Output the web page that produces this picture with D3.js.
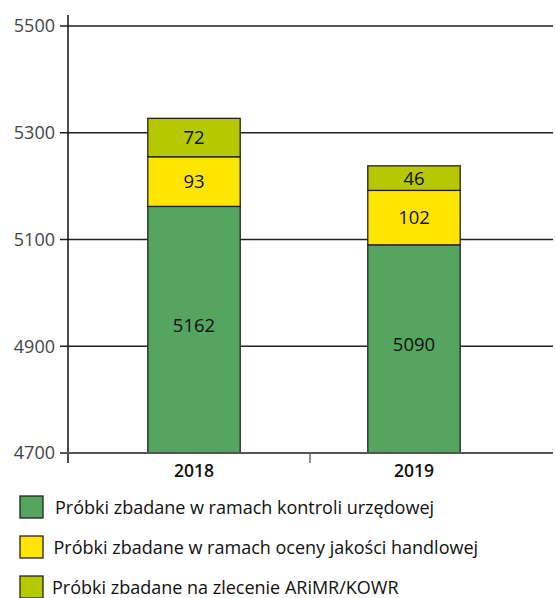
<!DOCTYPE html>
<html>
<head>
<meta charset="utf-8">
<script src="https://cdn.jsdelivr.net/npm/d3@7"></script>
<style>
  body { margin: 0; background: #fff; }
  text { font-family: "Open Sans", sans-serif; }
</style>
</head>
<body>
<div id="chart"></div>
<script>
let years = ["2018", "2019"];
let seriesNames = [
    "Próbki zbadane w ramach kontroli urzędowej",
    "Próbki zbadane w ramach oceny jakości handlowej",
    "Próbki zbadane na zlecenie ARiMR/KOWR"
];
let kontrola = [5162, 5090];
let jakosc = [93, 102];
let zlecenie = [72, 46];
let colors = ["#55a460", "#ffe600", "#b5c800"];
let yTicks = [4700, 4900, 5100, 5300, 5500];

let width = 555;
let height = 598;

let svg = d3.select("#chart")
    .append("svg")
    .attr("width", width)
    .attr("height", height);

let rows = years.map((y, i) => ({year: y, k: kontrola[i], j: jakosc[i], z: zlecenie[i]}));
let stacked = d3.stack().keys(["k", "j", "z"])(rows);

// axis starts at 4700, so clamp the bottom segment
let y = d3.scaleLinear()
    .domain([4700, 5500])
    .range([453, 26])
    .clamp(true);

let x = d3.scaleBand()
    .domain(years)
    .range([84, 524])
    .paddingInner(0.58)
    .paddingOuter(0.29);

// gridlines
svg.append("g")
    .selectAll("line")
    .data(yTicks.slice(1))
    .enter()
    .append("line")
    .attr("x1", 60)
    .attr("x2", 553)
    .attr("y1", d => y(d))
    .attr("y2", d => y(d))
    .style("stroke", "#222")
    .style("stroke-width", "1.3px");

// y labels
svg.append("g")
    .selectAll("text")
    .data(yTicks)
    .enter()
    .append("text")
    .attr("x", 55)
    .attr("y", d => y(d))
    .attr("dy", "0.35em")
    .attr("text-anchor", "end")
    .style("font-size", "18px")
    .style("fill", "#444")
    .text(d => d);

// bars
let groups = svg.append("g")
    .selectAll("g")
    .data(stacked)
    .enter()
    .append("g")
    .attr("fill", (d, i) => colors[i]);

groups.selectAll("rect")
    .data(d => d)
    .enter()
    .append("rect")
    .attr("x", d => x(d.data.year))
    .attr("y", d => y(d[1]))
    .attr("width", x.bandwidth())
    .attr("height", d => y(d[0]) - y(d[1]))
    .style("stroke", "#222")
    .style("stroke-width", "1.3px");

groups.selectAll("text")
    .data(d => d.map(v => ({v: v, val: v[1] - v[0]})))
    .enter()
    .append("text")
    .attr("x", d => x(d.v.data.year) + x.bandwidth() / 2)
    .attr("y", d => (y(d.v[0]) + y(d.v[1])) / 2)
    .attr("dy", d => d.v[0] == 0 ? "0.1em" : "0.35em")
    .attr("text-anchor", "middle")
    .style("font-size", "18.5px")
    .style("fill", "#111")
    .text(d => d.val);

// axes
svg.append("line")
    .attr("x1", 68).attr("x2", 68)
    .attr("y1", 15).attr("y2", 463)
    .style("stroke", "#111")
    .style("stroke-width", "1.5px");

svg.append("line")
    .attr("x1", 60).attr("x2", 553)
    .attr("y1", y(4700)).attr("y2", y(4700))
    .style("stroke", "#555")
    .style("stroke-width", "2px");

svg.append("line")
    .attr("x1", 310).attr("x2", 310)
    .attr("y1", y(4700)).attr("y2", 463)
    .style("stroke", "#555")
    .style("stroke-width", "1.3px");

svg.append("g")
    .selectAll("text")
    .data(years)
    .enter()
    .append("text")
    .attr("x", d => x(d) + x.bandwidth() / 2)
    .attr("y", 477)
    .attr("text-anchor", "middle")
    .style("font-size", "17.5px")
    .style("font-weight", "600")
    .style("fill", "#111")
    .text(d => d);

// legend
let legend = svg.append("g")
    .selectAll("g")
    .data(seriesNames)
    .enter()
    .append("g")
    .attr("transform", (d, i) => "translate(20," + (496 + i * 40) + ")");

legend.append("rect")
    .attr("width", 23)
    .attr("height", 22)
    .attr("fill", (d, i) => colors[i])
    .style("stroke", "#222")
    .style("stroke-width", "1.3px");

legend.append("text")
    .attr("x", (d, i) => 35 - i * 1.5)
    .attr("y", 18)
    .style("font-size", "18px")
    .style("fill", "#111")
    .text(d => d);
</script>
</body>
</html>
